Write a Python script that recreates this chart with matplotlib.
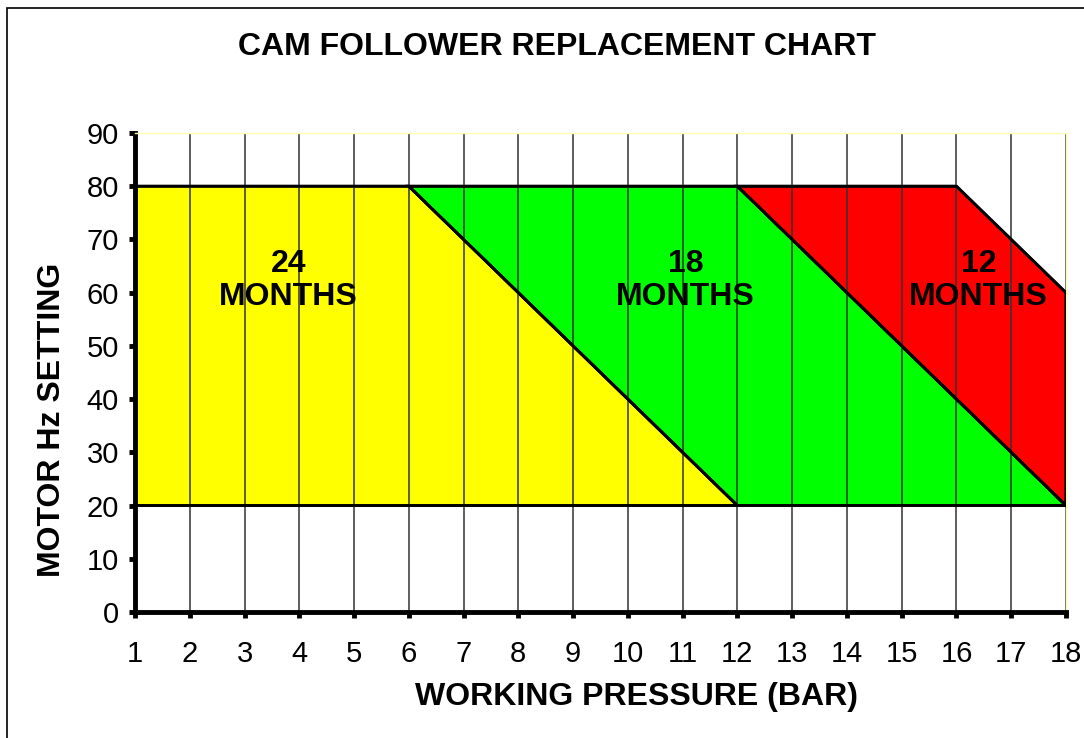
import matplotlib.pyplot as plt
from matplotlib.patches import Rectangle

# zone outlines (working pressure in bar, motor Hz)
zone_24_x = [1, 1, 6, 12]
zone_24_y = [20, 80, 80, 20]
zone_18_x = [6, 12, 18, 12]
zone_18_y = [80, 80, 20, 20]
zone_12_x = [12, 16, 18, 18]
zone_12_y = [80, 80, 60, 20]

zone_labels = ["24\nMONTHS", "18\nMONTHS", "12\nMONTHS"]
label_x = [3.8, 11.05, 16.4]
label_y = [62.3, 62.3, 62.3]

x_ticks = list(range(1, 19))
y_ticks = list(range(0, 100, 10))

plt.rcParams["font.family"] = ["Liberation Sans", "DejaVu Sans"]

fig = plt.figure(figsize=(10.84, 7.38), dpi=100)
ax = fig.add_axes([135 / 1084, 1 - 612 / 738, (1066 - 135) / 1084, (612 - 133) / 738])

zones = [
    (zone_24_x, zone_24_y, "#ffff00"),
    (zone_18_x, zone_18_y, "#00ff00"),
    (zone_12_x, zone_12_y, "#ff0000"),
]
for xs, ys, color in zones:
    ax.fill(xs, ys, facecolor=color, edgecolor="black", linewidth=2, zorder=1)

for x in x_ticks:
    ax.axvline(x, color="#333333", linewidth=1.1, zorder=2)

# redraw outlines above the grid
for xs, ys, color in zones:
    ax.fill(xs, ys, facecolor="none", edgecolor="black", linewidth=2, zorder=3)

for text, x, y in zip(zone_labels, label_x, label_y):
    ax.text(x, y, text, ha="center", va="center", fontsize=23, fontweight="bold",
            linespacing=1.12, zorder=4)

ax.set_xlim(1, 18)
ax.set_ylim(0, 90)
ax.set_xticks(x_ticks)
ax.set_yticks(y_ticks)
ax.tick_params(direction="out", length=4.5, width=3.5, labelsize=21)
ax.tick_params(axis="x", pad=16)
ax.tick_params(axis="y", pad=7)

for side in ["left", "bottom"]:
    ax.spines[side].set_linewidth(3.5)
for side in ["top", "right"]:
    ax.spines[side].set_color("#ffffb0")
    ax.spines[side].set_linewidth(1)

ax.set_xlabel("WORKING PRESSURE (BAR)", fontsize=23, fontweight="bold", va="center")
ax.set_ylabel("MOTOR Hz SETTING", fontsize=23, fontweight="bold", va="center")
ax.xaxis.set_label_coords(0.539, -0.177)
ax.yaxis.set_label_coords(-0.089, 0.401)

fig.text(557 / 1084, 1 - 47 / 738, "CAM FOLLOWER REPLACEMENT CHART",
         ha="center", va="center", fontsize=23, fontweight="bold")

fig.patches.append(Rectangle((7 / 1084, -0.1), 1.2, 1 - 8 / 738 + 0.1,
                             transform=fig.transFigure, fill=False,
                             edgecolor="black", linewidth=1.2))

fig.savefig("out.png", dpi=100)
